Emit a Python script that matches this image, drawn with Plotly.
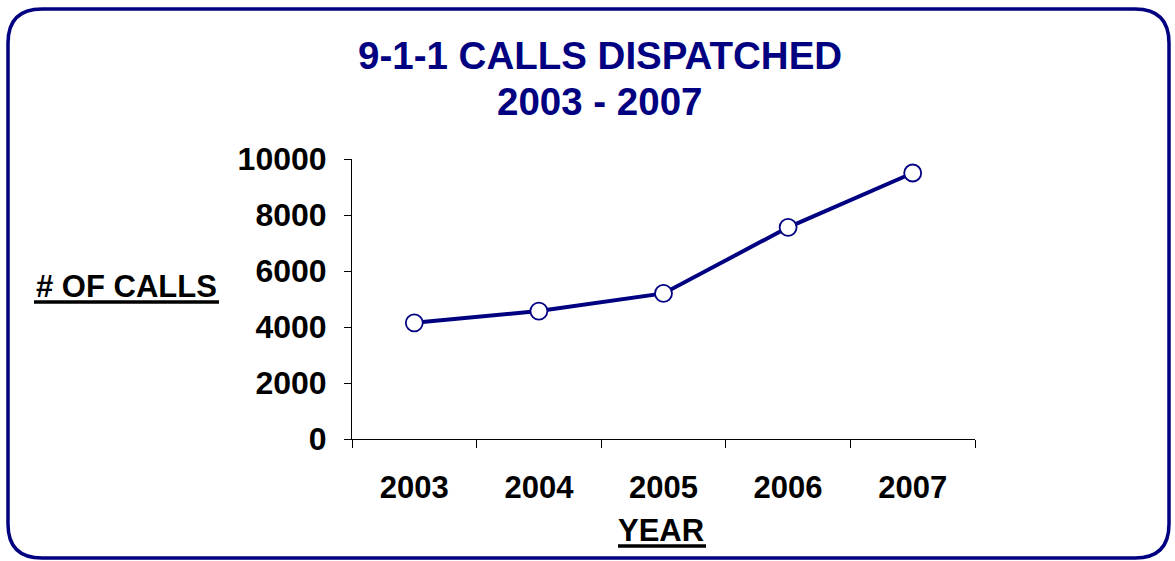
import plotly.graph_objects as go

years = ["2003", "2004", "2005", "2006", "2007"]
calls = [4150, 4570, 5200, 7560, 9500]
y_ticks = [0, 2000, 4000, 6000, 8000, 10000]
y_tick_labels = ["0", "2000", "4000", "6000", "8000", "10000"]

W, H = 1175, 561
L, R, T, B = 352, 200, 159, 122
PW, PH = W - L - R, H - T - B
NAVY = "#000080"
FONT = "Liberation Sans, Arial, sans-serif"


def px(x):
    return (x - L) / PW


def py(y):
    return (H - B - y) / PH


fig = go.Figure()
fig.add_trace(go.Scatter(
    x=years, y=calls, mode="lines+markers",
    line=dict(color=NAVY, width=4),
    marker=dict(size=17, color="white", line=dict(color=NAVY, width=1.8)),
    cliponaxis=False, showlegend=False,
))

# rounded border
x0, y0, x1, y1, r = 8, 9, 1169, 558, 34
path = (
    f"M {px(x0 + r)},{py(y0)} L {px(x1 - r)},{py(y0)} "
    f"Q {px(x1)},{py(y0)} {px(x1)},{py(y0 + r)} "
    f"L {px(x1)},{py(y1 - r)} Q {px(x1)},{py(y1)} {px(x1 - r)},{py(y1)} "
    f"L {px(x0 + r)},{py(y1)} Q {px(x0)},{py(y1)} {px(x0)},{py(y1 - r)} "
    f"L {px(x0)},{py(y0 + r)} Q {px(x0)},{py(y0)} {px(x0 + r)},{py(y0)} Z"
)
shapes = [
    dict(type="path", xref="paper", yref="paper", path=path,
         line=dict(color=NAVY, width=3.5), layer="below"),
    # underlines of axis titles
    dict(type="line", xref="paper", yref="paper", x0=px(34), x1=px(219),
         y0=py(302), y1=py(302), line=dict(color="black", width=3.5)),
    dict(type="line", xref="paper", yref="paper", x0=px(618), x1=px(706),
         y0=py(546), y1=py(546), line=dict(color="black", width=3.5)),
]

annotations = [
    dict(text="<b>9-1-1 CALLS DISPATCHED</b>", x=px(600), y=py(55),
         font=dict(size=38.5, color=NAVY, family=FONT)),
    dict(text="<b>2003 - 2007</b>", x=px(600), y=py(101),
         font=dict(size=38.5, color=NAVY, family=FONT)),
    dict(text="<b># OF CALLS</b>", x=px(126), y=py(286),
         font=dict(size=31, color="black", family=FONT)),
    dict(text="<b>YEAR</b>", x=px(661), y=py(530),
         font=dict(size=31, color="black", family=FONT)),
]
for a in annotations:
    a.update(xref="paper", yref="paper", showarrow=False,
             xanchor="center", yanchor="middle")

fig.update_layout(
    width=W, height=H,
    margin=dict(l=L, r=R, t=T, b=B),
    paper_bgcolor="white", plot_bgcolor="white",
    shapes=shapes, annotations=annotations,
    font=dict(family=FONT, color="black"),
    xaxis=dict(
        type="category", range=[-0.5, 4.5], tickson="boundaries",
        showline=True, linecolor="black", linewidth=1,
        ticks="outside", ticklen=8, tickcolor="black", tickwidth=1,
        showgrid=False, zeroline=False,
        tickfont=dict(size=31, family=FONT, color="black", weight="bold"),
        ticklabelstandoff=21,
    ),
    yaxis=dict(
        range=[0, 10000], tickvals=y_ticks, ticktext=y_tick_labels,
        showline=True, linecolor="black", linewidth=1,
        ticks="outside", ticklen=7, tickcolor="black", tickwidth=1,
        showgrid=False, zeroline=False,
        tickfont=dict(size=32, family=FONT, color="black", weight="bold"),
        ticklabelstandoff=11,
    ),
)

fig.write_html(
    "out.html",
    config={"displayModeBar": False},
    post_script="document.body.style.margin='0';document.body.style.overflow='hidden';",
)
